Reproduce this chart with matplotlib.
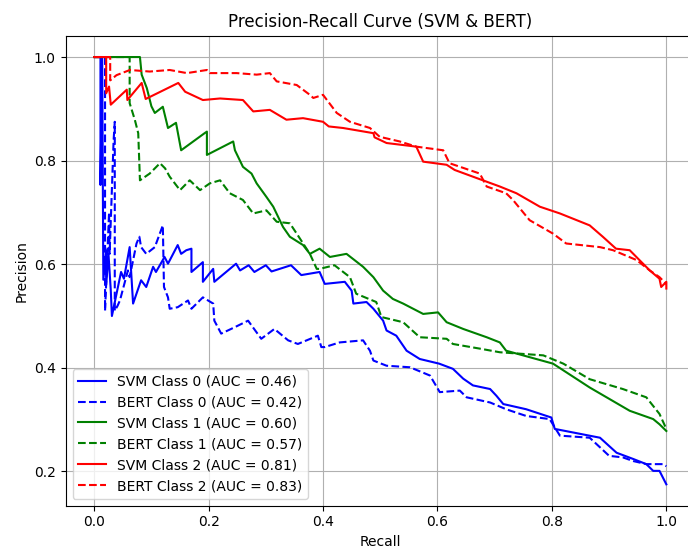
import matplotlib
matplotlib.use('Agg')
import matplotlib.pyplot as plt

# SVM class 0
svm0_recall = [0.0, 0.011, 0.011, 0.014, 0.016, 0.021, 0.021, 0.025, 0.029, 0.031, 0.047, 0.052,
               0.062, 0.068, 0.082, 0.091, 0.103, 0.108, 0.123, 0.129, 0.146, 0.152, 0.161, 0.17,
               0.17, 0.19, 0.19, 0.208, 0.21, 0.248, 0.255, 0.27, 0.28, 0.30, 0.31, 0.344, 0.362,
               0.394, 0.403, 0.438, 0.45, 0.453, 0.476, 0.488, 0.505, 0.511, 0.528, 0.546, 0.569,
               0.603, 0.627, 0.645, 0.662, 0.692, 0.703, 0.715, 0.755, 0.799, 0.805, 0.884, 0.913,
               0.942, 0.965, 0.977, 0.988, 0.994, 1.0]
svm0_precision = [1.0, 1.0, 0.753, 1.0, 0.57, 0.627, 0.56, 0.62, 0.55, 0.50, 0.585, 0.572,
                  0.633, 0.524, 0.569, 0.556, 0.595, 0.585, 0.614, 0.601, 0.637, 0.62, 0.627, 0.63,
                  0.585, 0.604, 0.566, 0.591, 0.566, 0.601, 0.588, 0.598, 0.585, 0.598, 0.586, 0.598,
                  0.579, 0.585, 0.562, 0.566, 0.549, 0.524, 0.527, 0.514, 0.491, 0.472, 0.462, 0.433,
                  0.417, 0.408, 0.398, 0.379, 0.366, 0.359, 0.346, 0.33, 0.32, 0.304, 0.282, 0.265,
                  0.236, 0.224, 0.214, 0.201, 0.201, 0.188, 0.175]

# BERT class 0
bert0_recall = [0.0, 0.019, 0.019, 0.026, 0.027, 0.034, 0.036, 0.036, 0.041, 0.045, 0.059, 0.062,
                0.074, 0.079, 0.082, 0.091, 0.106, 0.12, 0.122, 0.129, 0.132, 0.146, 0.164, 0.17,
                0.19, 0.208, 0.21, 0.222, 0.245, 0.269, 0.292, 0.315, 0.339, 0.356, 0.391, 0.397,
                0.403, 0.429, 0.47, 0.482, 0.488, 0.511, 0.552, 0.587, 0.604, 0.639, 0.651, 0.692,
                0.72, 0.755, 0.796, 0.814, 0.866, 0.9, 0.924, 0.942, 0.965, 0.994, 1.0]
bert0_precision = [1.0, 1.0, 0.51, 0.70, 0.62, 0.84, 0.875, 0.51, 0.52, 0.53, 0.588, 0.575,
                   0.64, 0.653, 0.633, 0.62, 0.633, 0.675, 0.556, 0.536, 0.514, 0.517, 0.53, 0.514,
                   0.536, 0.524, 0.491, 0.466, 0.478, 0.491, 0.456, 0.475, 0.453, 0.446, 0.462, 0.44,
                   0.44, 0.449, 0.453, 0.433, 0.414, 0.404, 0.401, 0.385, 0.353, 0.356, 0.343, 0.333,
                   0.32, 0.307, 0.301, 0.269, 0.265, 0.23, 0.227, 0.22, 0.214, 0.214, 0.21]

# SVM class 1
svm1_recall = [0.0, 0.08, 0.083, 0.092, 0.1, 0.106, 0.12, 0.129, 0.143, 0.152, 0.193, 0.197,
               0.197, 0.243, 0.246, 0.26, 0.275, 0.284, 0.301, 0.313, 0.33, 0.342, 0.365, 0.377,
               0.394, 0.412, 0.441, 0.47, 0.488, 0.505, 0.522, 0.54, 0.575, 0.601, 0.616, 0.645,
               0.686, 0.709, 0.72, 0.802, 0.866, 0.936, 0.977, 0.988, 1.0]
svm1_precision = [1.0, 1.0, 0.966, 0.94, 0.905, 0.892, 0.904, 0.863, 0.873, 0.82, 0.853, 0.856,
                  0.811, 0.837, 0.82, 0.788, 0.775, 0.756, 0.73, 0.711, 0.672, 0.653, 0.637, 0.62,
                  0.63, 0.614, 0.62, 0.595, 0.575, 0.549, 0.533, 0.524, 0.504, 0.507, 0.488, 0.475,
                  0.459, 0.449, 0.433, 0.408, 0.362, 0.317, 0.301, 0.291, 0.278]

# BERT class 1
bert1_recall = [0.0, 0.062, 0.062, 0.071, 0.077, 0.08, 0.097, 0.115, 0.124, 0.132, 0.15, 0.167,
                0.185, 0.202, 0.22, 0.237, 0.26, 0.278, 0.301, 0.319, 0.342, 0.354, 0.377, 0.389,
                0.394, 0.42, 0.447, 0.458, 0.493, 0.502, 0.54, 0.569, 0.616, 0.627, 0.674, 0.709,
                0.785, 0.82, 0.866, 0.924, 0.965, 0.988, 1.0]
bert1_precision = [1.0, 1.0, 0.911, 0.879, 0.853, 0.762, 0.775, 0.795, 0.785, 0.769, 0.743, 0.762,
                   0.743, 0.756, 0.762, 0.737, 0.724, 0.698, 0.704, 0.682, 0.679, 0.659, 0.62, 0.591,
                   0.591, 0.598, 0.575, 0.543, 0.527, 0.498, 0.488, 0.459, 0.456, 0.446, 0.437, 0.43,
                   0.424, 0.408, 0.378, 0.359, 0.343, 0.311, 0.282]

# SVM class 2
svm2_recall = [0.0, 0.021, 0.021, 0.026, 0.029, 0.057, 0.058, 0.083, 0.09, 0.147, 0.159, 0.19,
               0.22, 0.26, 0.278, 0.307, 0.336, 0.365, 0.40, 0.41, 0.435, 0.488, 0.49, 0.511,
               0.563, 0.575, 0.616, 0.63, 0.662, 0.709, 0.738, 0.779, 0.814, 0.866, 0.889, 0.912,
               0.936, 0.953, 0.971, 0.988, 0.991, 1.0, 1.0]
svm2_precision = [1.0, 1.0, 0.93, 0.943, 0.908, 0.937, 0.917, 0.95, 0.919, 0.95, 0.933, 0.917,
                  0.92, 0.917, 0.895, 0.898, 0.879, 0.882, 0.875, 0.866, 0.863, 0.853, 0.845, 0.834,
                  0.827, 0.798, 0.792, 0.782, 0.769, 0.75, 0.737, 0.711, 0.698, 0.675, 0.653, 0.63,
                  0.627, 0.608, 0.588, 0.572, 0.556, 0.566, 0.553]

# BERT class 2
bert2_recall = [0.0, 0.028, 0.028, 0.039, 0.0625, 0.097, 0.132, 0.162, 0.197, 0.202, 0.249, 0.284,
                0.307, 0.319, 0.354, 0.377, 0.383, 0.40, 0.424, 0.447, 0.482, 0.499, 0.534, 0.563,
                0.61, 0.621, 0.674, 0.686, 0.72, 0.732, 0.761, 0.802, 0.825, 0.884, 0.907, 0.948,
                0.971, 0.988, 1.0]
bert2_precision = [1.0, 1.0, 0.955, 0.965, 0.975, 0.972, 0.975, 0.969, 0.975, 0.969, 0.969, 0.966,
                   0.969, 0.953, 0.946, 0.927, 0.921, 0.927, 0.892, 0.875, 0.863, 0.846, 0.837, 0.827,
                   0.82, 0.795, 0.775, 0.75, 0.737, 0.724, 0.685, 0.659, 0.64, 0.633, 0.627, 0.608,
                   0.588, 0.575, 0.562]

auc_svm = [0.46, 0.60, 0.81]
auc_bert = [0.42, 0.57, 0.83]
class_colors = ['blue', 'green', 'red']

svm_curves = [(svm0_recall, svm0_precision), (svm1_recall, svm1_precision), (svm2_recall, svm2_precision)]
bert_curves = [(bert0_recall, bert0_precision), (bert1_recall, bert1_precision), (bert2_recall, bert2_precision)]

fig = plt.figure(figsize=(6.88, 5.48), dpi=100)
# right spine sits just past the image edge, as in the reference
ax = fig.add_axes([0.0953, 0.0772, 0.9148, 0.8577])

for i in range(3):
    ax.plot(svm_curves[i][0], svm_curves[i][1], color=class_colors[i], linestyle='-',
            label=f'SVM Class {i} (AUC = {auc_svm[i]:.2f})')
    ax.plot(bert_curves[i][0], bert_curves[i][1], color=class_colors[i], linestyle='--',
            label=f'BERT Class {i} (AUC = {auc_bert[i]:.2f})')

ax.set_title('Precision-Recall Curve (SVM & BERT)')
ax.set_xlabel('Recall')
ax.set_ylabel('Precision')
ax.legend(loc='lower left')
ax.grid(True)

fig.savefig('out.png', dpi=100)
